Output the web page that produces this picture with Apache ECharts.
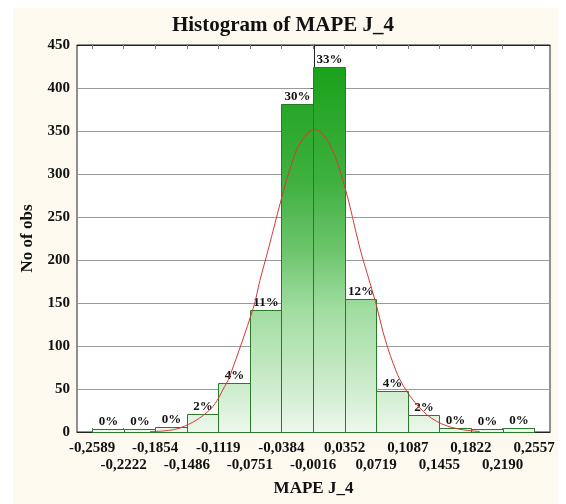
<!DOCTYPE html>
<html><head><meta charset="utf-8">
<script src="https://cdn.jsdelivr.net/npm/echarts@6/dist/echarts.min.js"></script>
<style>
html,body{margin:0;padding:0;background:#fff;}
#bg{position:absolute;left:13px;top:8px;width:545px;height:496px;background:#fdf9ef;}
#main{position:absolute;left:0;top:0;width:566px;height:504px;}
</style>
</head><body><div id="bg"></div><div id="main"></div>
<script>
const binEdges = [-0.2589,-0.2222,-0.1854,-0.1486,-0.1119,-0.0751,-0.0384,-0.0016,0.0352,0.0719,0.1087,0.1455,0.1822,0.2190,0.2557];
const edgeLabels = ['-0,2589','-0,2222','-0,1854','-0,1486','-0,1119','-0,0751','-0,0384','-0,0016','0,0352','0,0719','0,1087','0,1455','0,1822','0,2190','0,2557'];
const counts = [3,4,6,21,57,142,381,425,155,48,20,5,4,5];
const percentLabels = ['0%','0%','0%','2%','4%','11%','30%','33%','12%','4%','2%','0%','0%','0%'];
const curveX = [-0.1914,-0.1565,-0.1216,-0.1022,-0.0984,-0.0712,-0.0635,-0.0538,-0.0382,-0.0286,-0.0169,0.0005,0.0180,0.0354,0.0529,0.0645,0.0723,0.0800,0.0916,0.1033,0.1227,0.1421,0.1654,0.1925];
const curveY = [0.5,4.7,26,57,65,144,176,212,272,305,335.5,352,334,285,214,174,147,116,80,54,28,12.5,4,0.5];
const yMin = 0, yMax = 450, yStep = 50;
const xMin = -0.2764, xMax = 0.2743;

const evenEdges = binEdges.filter((e, i) => i % 2 === 0);
const oddEdges = binEdges.filter((e, i) => i % 2 === 1);
function edgeLabel(v) {
  const i = binEdges.findIndex(e => Math.abs(e - v) < 1e-6);
  return i < 0 ? '' : edgeLabels[i];
}

const font = '"Liberation Serif","Times New Roman",serif';
const labelStyle = {fontFamily: font, fontWeight: 'bold', fontSize: 15, color: '#111'};
const chart = echarts.init(document.getElementById('main'));

const option = {
  animation: false,
  title: {
    text: 'Histogram of MAPE J_4',
    left: 'center',
    top: 10,
    textStyle: {fontFamily: font, fontWeight: 'bold', fontSize: 21, color: '#111'}
  },
  grid: {left: 77, right: 16, top: 45, bottom: 72, show: true, backgroundColor: '#fff', borderColor: '#222', borderWidth: 1},
  xAxis: [{
    type: 'value', min: xMin, max: xMax, position: 'bottom',
    name: 'MAPE J_4', nameLocation: 'middle', nameGap: 48,
    nameTextStyle: {fontFamily: font, fontWeight: 'bold', fontSize: 17, color: '#111'},
    axisLine: {show: true, lineStyle: {color: '#222', width: 1}},
    splitLine: {show: false},
    axisTick: {show: true, inside: true, length: 4, customValues: binEdges, lineStyle: {color: '#666'}},
    axisLabel: Object.assign({
      customValues: evenEdges, margin: 9,
      showMinLabel: true, showMaxLabel: true, hideOverlap: false,
      formatter: edgeLabel
    }, labelStyle)
  }, {
    type: 'value', min: xMin, max: xMax, position: 'top',
    axisLine: {show: true, lineStyle: {color: '#222'}},
    splitLine: {show: false},
    axisTick: {show: true, inside: true, length: 4, customValues: binEdges, lineStyle: {color: '#777'}},
    axisLabel: {show: false}
  }, {
    type: 'value', min: xMin, max: xMax, position: 'bottom', offset: 17,
    axisLine: {show: false},
    splitLine: {show: false},
    axisTick: {show: false},
    axisLabel: Object.assign({
      customValues: oddEdges, margin: 9,
      showMinLabel: true, showMaxLabel: true, hideOverlap: false,
      formatter: edgeLabel
    }, labelStyle)
  }],
  yAxis: {
    type: 'value', min: yMin, max: yMax, interval: yStep,
    name: 'No of obs', nameLocation: 'middle', nameGap: 41,
    nameTextStyle: {fontFamily: font, fontWeight: 'bold', fontSize: 17, color: '#111'},
    axisLine: {show: true, lineStyle: {color: '#222'}},
    axisTick: {show: true, length: 4, lineStyle: {color: '#555'}},
    axisLabel: {margin: 7, fontFamily: font, fontWeight: 'bold', fontSize: 15, color: '#111'},
    splitLine: {show: true, lineStyle: {color: '#9a9a9a', width: 1}}
  },
  series: [{
    type: 'custom',
    xAxisIndex: 0,
    z: 3,
    data: counts.map((c, i) => [binEdges[i], binEdges[i + 1], c]),
    encode: {x: [0, 1], y: 2},
    renderItem: function (params, api) {
      const p0 = api.coord([api.value(0), api.value(2)]);
      const p1 = api.coord([api.value(1), 0]);
      const gTop = api.coord([0, yMax])[1];
      const gBot = api.coord([0, yMin])[1];
      const grad = new echarts.graphic.LinearGradient(0, gTop, 0, gBot, [
        {offset: 0, color: '#139f13'},
        {offset: 0.35, color: '#3fb03f'},
        {offset: 0.53, color: '#6cc56c'},
        {offset: 0.68, color: '#a0dca0'},
        {offset: 0.92, color: '#d6efd6'},
        {offset: 1, color: '#edf8ed'}
      ], true);
      const x0 = Math.round(p0[0]) + 0.5, x1 = Math.round(p1[0]) + 0.5;
      const y0 = Math.round(p0[1]) + 0.5, y1 = Math.round(p1[1]) + 0.5;
      return {
        type: 'group',
        children: [{
          type: 'rect',
          shape: {x: x0, y: y0, width: x1 - x0, height: y1 - y0},
          style: {fill: grad, stroke: '#2b7a2b', lineWidth: 1}
        }, {
          type: 'text',
          style: {
            text: percentLabels[params.dataIndex],
            x: (x0 + x1) / 2, y: y0 - 1,
            textAlign: 'center', textVerticalAlign: 'bottom',
            font: 'bold 13px ' + font, fill: '#111'
          }
        }]
      };
    }
  }, {
    type: 'line',
    xAxisIndex: 0,
    z: 4,
    data: curveX.map((x, i) => [x, curveY[i]]),
    smooth: 0.35,
    showSymbol: false,
    symbol: 'none',
    lineStyle: {color: '#d43a34', width: 1}
  }]
};
chart.setOption(option);
</script>
</body></html>
